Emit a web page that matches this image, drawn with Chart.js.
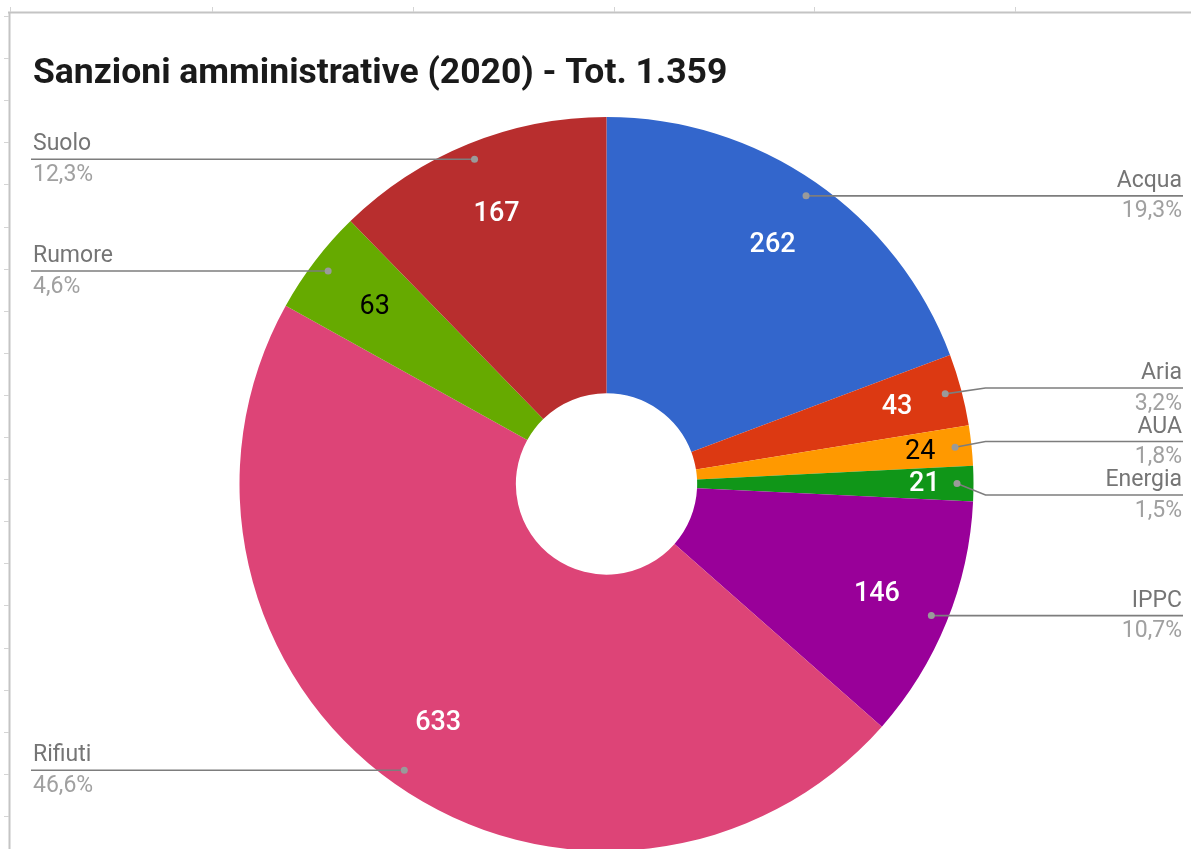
<!DOCTYPE html>
<html><head><meta charset="utf-8">
<script src="https://cdn.jsdelivr.net/npm/chart.js@4.4.0/dist/chart.umd.min.js"></script>
<style>
html,body{margin:0;padding:0;background:#fff;overflow:hidden;width:1191px;height:849px;}
#wrap{position:absolute;left:0;top:0;width:1191px;height:900px;}
</style></head><body>
<div id="wrap"><canvas id="c"></canvas></div>
<script>
const categories = ['Acqua','Aria','AUA','Energia','IPPC','Rifiuti','Rumore','Suolo'];
const values = [262,43,24,21,146,633,63,167];
const colors = ['#3366cc','#dc3912','#ff9900','#109618','#990099','#dd4477','#66aa00','#b82e2e'];
const titleText = 'Sanzioni amministrative (2020) - Tot. 1.359';

const total = values.reduce((a,b)=>a+b,0);
const pct = v => (v/total*100).toFixed(1).replace('.',',') + '%';

function lum(hex){
  const n = parseInt(hex.slice(1),16);
  const c = [(n>>16)&255,(n>>8)&255,n&255].map(v=>{v/=255;return v<=0.03928?v/12.92:Math.pow((v+0.055)/1.055,2.4);});
  return 0.2126*c[0]+0.7152*c[1]+0.0722*c[2];
}

const framePlugin = {
  id:'frame',
  beforeDraw(chart){
    const ctx = chart.ctx;
    ctx.save();
    ctx.fillStyle = '#c4c4c4';
    ctx.fillRect(8, 11.5, 1183, 2);
    ctx.fillRect(8.5, 12, 2, 837);
    ctx.fillStyle = '#d4d4d4';
    [10,212,413,614,814,1015].forEach(x=>ctx.fillRect(x, 7, 1, 5));
    for(let y=16; y<849; y+=42.1) ctx.fillRect(4, Math.round(y), 5, 1);
    ctx.restore();
  }
};

const labelPlugin = {
  id:'pieLabels',
  afterDraw(chart){
    const ctx = chart.ctx;
    const meta = chart.getDatasetMeta(0);
    ctx.save();
    ctx.font = 'bold 35.5px Roboto';
    ctx.fillStyle = '#1a1a1a';
    ctx.textBaseline = 'alphabetic';
    ctx.textAlign = 'left';
    ctx.fillText(titleText, 33, 83);

    const items = meta.data.map((arc,i)=>{
      const p = arc.getProps(['x','y','startAngle','endAngle','outerRadius','innerRadius'], true);
      const mid = (p.startAngle+p.endAngle)/2;
      const frac = values[i]/total;
      const rl = p.outerRadius*(0.795 + 2.9*Math.max(0,0.04-frac));
      const dr = p.outerRadius*0.955;
      return {i, mid, cx:p.x, cy:p.y, R:p.outerRadius,
        lx:p.x+Math.cos(mid)*rl, ly:p.y+Math.sin(mid)*rl,
        dx:p.x+Math.cos(mid)*dr, dy:p.y+Math.sin(mid)*dr,
        side: Math.cos(mid)>=0?'right':'left'};
    });
    items.forEach(it=>it.lineY=it.dy);
    const gap = 53.5;
    ['left','right'].forEach(side=>{
      const g = items.filter(it=>it.side===side).sort((a,b)=>a.dy-b.dy);
      for(let iter=0; iter<200; iter++){
        for(let k=0;k<g.length-1;k++){
          const d = g[k+1].lineY-g[k].lineY;
          if(d<gap){const s=(gap-d)/2; g[k].lineY-=s; g[k+1].lineY+=s;}
        }
      }
    });

    ctx.textAlign = 'center';
    ctx.textBaseline = 'middle';
    items.forEach(it=>{
      const dark = lum(colors[it.i])>0.26;
      ctx.font = (dark ? '400' : '500') + ' 27px Roboto';
      ctx.fillStyle = dark ? '#000000' : '#ffffff';
      ctx.fillText(String(values[it.i]), it.lx, it.ly+1);
    });

    items.forEach(it=>{
      ctx.strokeStyle = '#7d7d7d';
      ctx.lineWidth = 1.6;
      ctx.beginPath();
      ctx.moveTo(it.dx, it.dy);
      const straight = Math.abs(it.lineY-it.dy)<1;
      if(it.side==='right'){
        if(!straight) ctx.lineTo(it.cx+it.R+12, it.lineY);
        ctx.lineTo(1183, it.lineY);
      } else {
        if(!straight) ctx.lineTo(it.cx-it.R-12, it.lineY);
        ctx.lineTo(31, it.lineY);
      }
      ctx.stroke();
      ctx.fillStyle = '#9a9a9a';
      ctx.beginPath(); ctx.arc(it.dx, it.dy, 3.5, 0, Math.PI*2); ctx.fill();

      ctx.font = '23px Roboto';
      ctx.textBaseline = 'alphabetic';
      ctx.textAlign = it.side==='right' ? 'right' : 'left';
      const tx = it.side==='right' ? 1182 : 33;
      ctx.fillStyle = '#757575';
      ctx.fillText(categories[it.i], tx, it.lineY-9);
      ctx.fillStyle = '#a0a0a0';
      ctx.fillText(pct(values[it.i]), tx, it.lineY+21.5);
    });
    ctx.restore();
  }
};

new Chart(document.getElementById('c'), {
  type:'doughnut',
  data:{ labels: categories, datasets:[{ data: values, backgroundColor: colors, borderWidth:0 }]},
  options:{
    responsive:true, maintainAspectRatio:false, animation:false, devicePixelRatio:1,
    cutout:'24.7%',
    layout:{ padding:{ top:117, bottom:49, left:239.5, right:217.5 } },
    plugins:{ legend:{display:false}, tooltip:{enabled:false}, title:{display:false} }
  },
  plugins:[framePlugin, labelPlugin]
});
</script>
</body></html>
